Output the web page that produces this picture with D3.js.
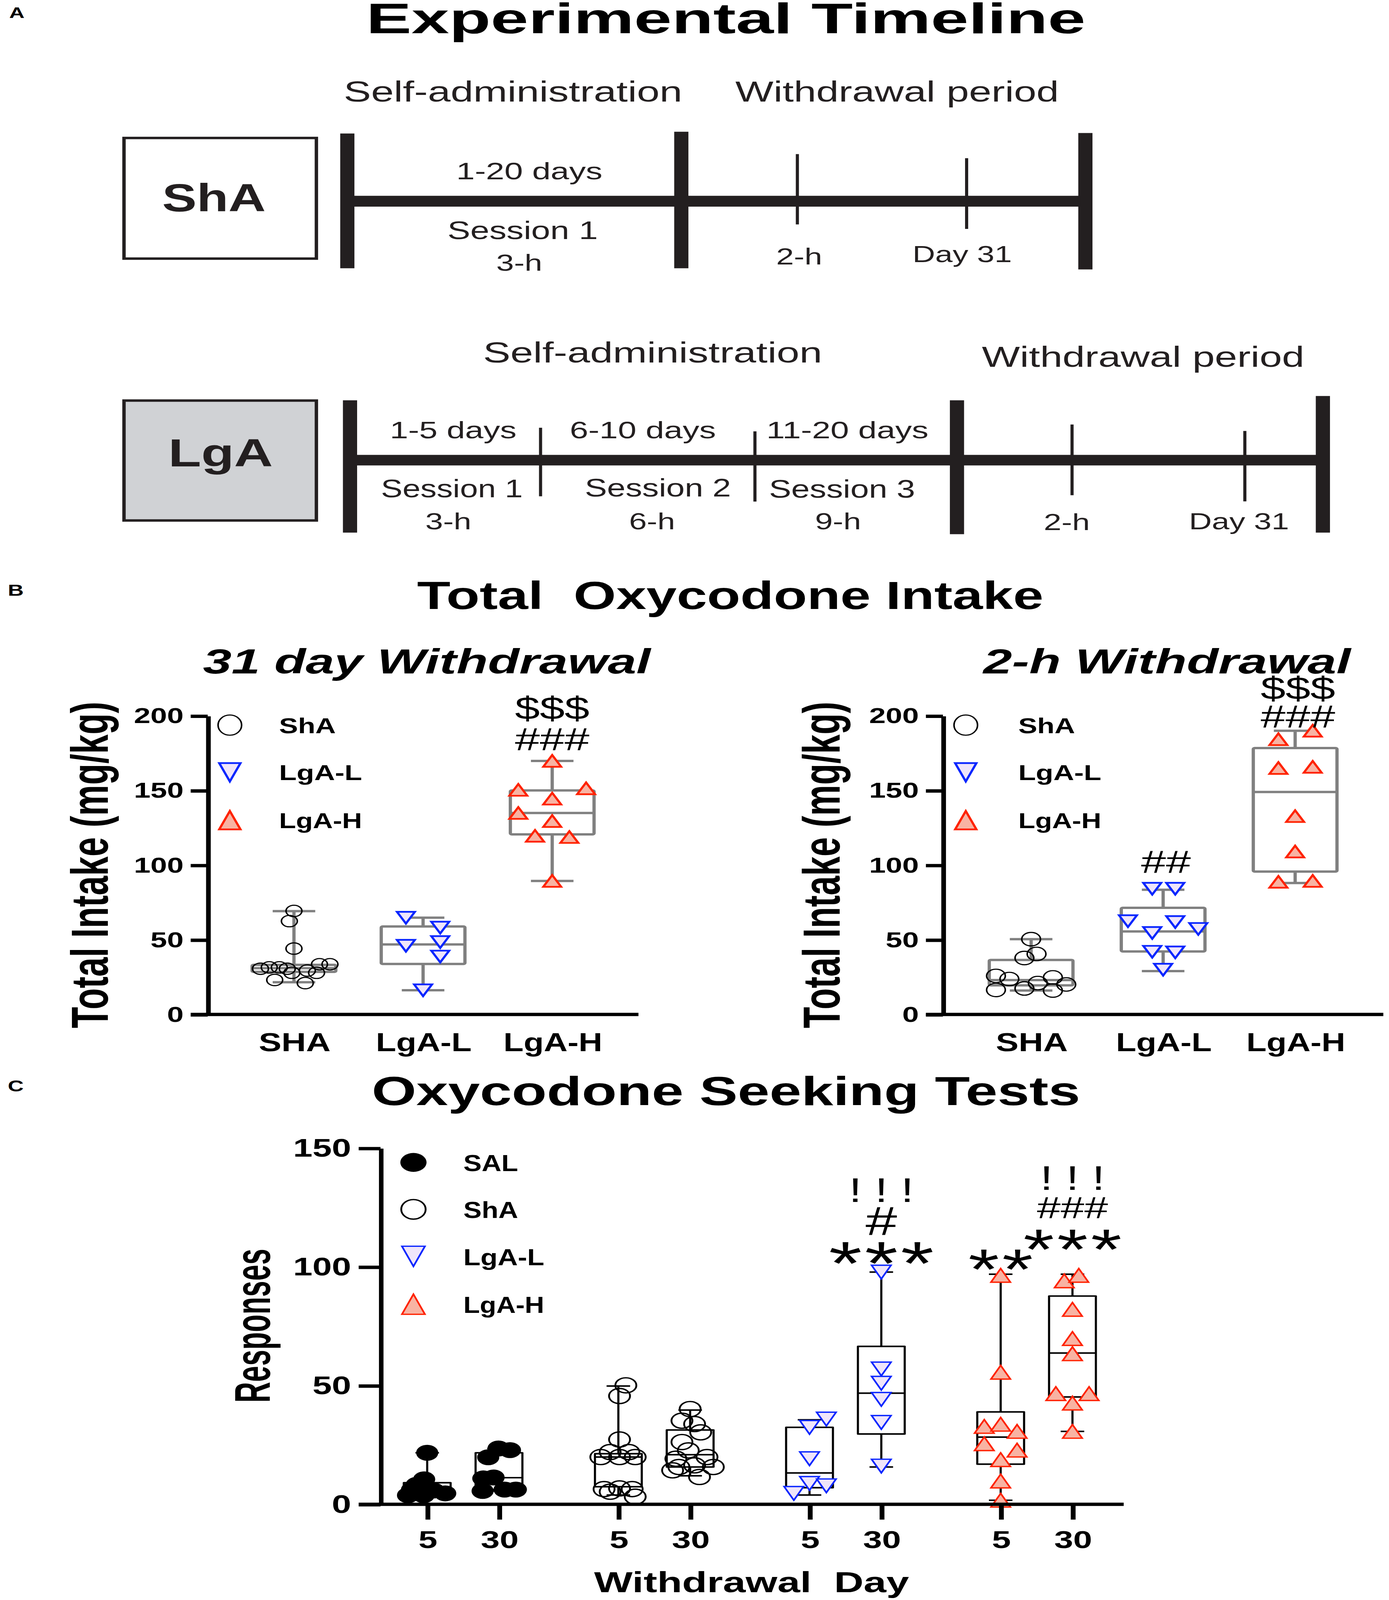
<!DOCTYPE html>
<html><head><meta charset="utf-8">
<script src="https://cdn.jsdelivr.net/npm/d3@7"></script>
<style>html,body{margin:0;padding:0;background:#fff;overflow:hidden} svg{display:block} text{white-space:pre}</style>
</head><body><svg id="fig"></svg>
<script>
// ================= DATA =================
const intakeGroups = ["SHA", "LgA-L", "LgA-H"];
const intakeLegend = ["ShA", "LgA-L", "LgA-H"];
const intakeTicks = [0, 50, 100, 150, 200];

const w31SHA = [69.3, 62.5, 44.1, 30.6, 31.5, 31.5, 30.6, 27.9, 29.4, 33.6, 33.6, 23.1, 21.0, 27.9];
const w31SHAJitter = [0, -0.11, 0, -0.80, -0.59, -0.35, -0.16, -0.05, 0.32, 0.61, 0.86, -0.46, 0.27, 0.54];
const w31LgAL = [64.8, 58.2, 46.0, 48.5, 38.8, 16.2];
const w31LgALJitter = [-0.41, 0.41, -0.41, 0.41, 0.41, 0];
const w31LgAH = [169.8, 150.4, 151.4, 144.5, 134.9, 129.5, 119.6, 118.8, 89.4];
const w31LgAHJitter = [0, -0.81, 0.81, 0, -0.81, 0, -0.41, 0.41, 0];
const w31SHABox = [21.6, 28.5, 31.0, 33.2, 69.2];
const w31LgALBox = [16.2, 33.8, 46.9, 58.9, 64.8];
const w31LgAHBox = [89.4, 120.6, 134.9, 150.0, 169.8];
const w31Annot = [["LgA-H", "$$$", 197.9], ["LgA-H", "###", 177.0]];

const w2SHA = [50.4, 37.8, 40.5, 25.8, 23.7, 24.8, 21.0, 16.4, 17.4, 16.0, 20.1];
const w2SHAJitter = [0, -0.16, 0.13, -0.84, -0.52, 0.52, 0.16, -0.84, -0.16, 0.52, 0.84];
const w2LgAL = [84.2, 84.2, 62.5, 61.9, 57.3, 54.6, 42.0, 41.6, 30.0];
const w2LgALJitter = [-0.26, 0.29, -0.84, 0.29, 0.84, -0.26, -0.26, 0.29, 0];
const w2LgAH = [184.3, 190.0, 165.0, 165.8, 132.8, 109.1, 88.8, 89.4];
const w2LgAHJitter = [-0.40, 0.42, -0.40, 0.42, 0, 0, -0.40, 0.42];
const w2SHABox = [16.0, 19.5, 23.0, 36.5, 50.4];
const w2LgALBox = [29.0, 42.2, 55.6, 71.4, 83.5];
const w2LgAHBox = [88.0, 95.7, 149.0, 178.4, 190.0];
const w2Annot = [["LgA-L", "##", 95.0], ["LgA-H", "$$$", 211.2], ["LgA-H", "###", 192.3]];

const seekGroups = ["SAL", "ShA", "LgA-L", "LgA-H"];
const seekDays = ["5", "30"];
const seekTicks = [0, 50, 100, 150];
const sal5 = [21.7, 10.5, 8.2, 6.1, 5.8, 4.6, 3.8, 3.8];
const sal5Jitter = [0, -0.13, -0.45, -0.65, 0.27, 0.77, -0.82, -0.15];
const sal30 = [23.5, 22.8, 19.8, 10.9, 11.3, 5.6, 6.2, 6.2];
const sal30Jitter = [-0.02, 0.47, -0.46, -0.67, -0.23, -0.70, 0.24, 0.72];
const sha5 = [50.1, 45.6, 27.3, 19.9, 22.0, 22.0, 19.9, 19.9, 6.4, 6.7, 6.4, 5.3, 3.2];
const sha5Jitter = [0.32, 0.05, 0.05, -0.75, -0.35, 0.45, 0.72, 0.05, -0.61, 0.05, 0.59, -0.35, 0.72];
const sha30 = [40.1, 35.2, 33.8, 30.3, 26.2, 22.7, 19.2, 19.9, 15.7, 16.4, 15.7, 11.5, 14.3];
const sha30Jitter = [0, -0.35, 0.19, 0.45, -0.35, -0.08, -0.61, 0.72, -0.48, 0.19, 0.99, 0.40, -0.75];
const lgal5 = [35.9, 32.4, 19.2, 8.8, 7.8, 4.6];
const lgal5Jitter = [0.72, 0, 0, 0, 0.72, -0.67];
const lgal30 = [97.8, 57.0, 51.0, 44.2, 34.5, 16.1];
const lgal30Jitter = [0, 0, 0, 0, 0, 0];
const lgah5 = [96.4, 55.6, 32.8, 33.7, 30.7, 25.5, 22.8, 18.8, 9.8, 1.7];
const lgah5Jitter = [0, 0, -0.70, 0, 0.70, -0.70, 0.70, 0, 0, 0];
const lgah30 = [94.1, 96.4, 82.1, 69.8, 63.4, 46.6, 46.6, 42.6, 30.7];
const lgah30Jitter = [-0.35, 0.27, 0, 0, 0, -0.71, 0.71, 0, 0];
const sal5Box = [3.8, 4.2, 5.5, 9.1, 21.7];
const sal30Box = [5.6, 6.2, 11.2, 21.7, 23.5];
const sha5Box = [3.9, 7.4, 19.9, 21.3, 49.8];
const sha30Box = [12.0, 15.7, 20.9, 31.3, 39.7];
const lgal5Box = [3.9, 7.0, 13.2, 32.4, 35.6];
const lgal30Box = [15.7, 29.6, 46.8, 66.5, 97.8];
const lgah5Box = [1.7, 16.9, 28.3, 38.9, 96.9];
const lgah30Box = [30.7, 45.2, 63.7, 87.7, 96.9];
const seekAnnot = [
  ["LgA-L", "30", "***", 92.4], ["LgA-L", "30", "#", 113.3], ["LgA-L", "30", "! ! !", 127.4],
  ["LgA-H", "5", "**", 90.6],
  ["LgA-H", "30", "***", 99.1], ["LgA-H", "30", "###", 120.5], ["LgA-H", "30", "! ! !", 132.4]
];

const phaseLabels = ["Self-administration", "Withdrawal period"];
const shaDays = ["1-20 days"], shaSessions = ["Session 1"], shaHours = ["3-h"];
const lgaDays = ["1-5 days", "6-10 days", "11-20 days"];
const lgaSessions = ["Session 1", "Session 2", "Session 3"];
const lgaHours = ["3-h", "6-h", "9-h"];
const withdrawalMarks = ["2-h", "Day 31"];

// ================= DRAWING =================
const K = 3555 / 979;
const W = 979, H = 5693 / K;
const VW = window.innerWidth || 3555, VH = window.innerHeight || 5693;
const svg = d3.select("#fig").attr("width", VW).attr("height", VH)
  .attr("viewBox", `0 0 ${W} ${H}`).attr("preserveAspectRatio", "none");
svg.append("rect").attr("width", W).attr("height", H).attr("fill", "#fff");
const FONT = "'Liberation Sans', Arial, Helvetica, sans-serif";

function label(g, s, o) {
  const t = g.append("text").text(s).attr("x", o.x).attr("y", o.y)
    .attr("xml:space", "preserve")
    .attr("font-family", FONT).attr("font-size", o.size)
    .attr("font-weight", o.bold ? "bold" : "normal")
    .attr("font-style", o.italic ? "italic" : "normal")
    .attr("text-anchor", o.anchor || "middle").attr("fill", o.fill || "#000");
  if (o.len) t.attr("textLength", o.len).attr("lengthAdjust", "spacingAndGlyphs");
  if (o.ls) t.attr("letter-spacing", o.ls);
  if (o.rotate) t.attr("transform", `rotate(${o.rotate},${o.x},${o.y})`);
  return t;
}
function triPath(cx, cy, w, h, up) {
  return up
    ? `M${cx - w / 2},${cy + h / 2}L${cx},${cy - h / 2}L${cx + w / 2},${cy + h / 2}Z`
    : `M${cx - w / 2},${cy - h / 2}L${cx},${cy + h / 2}L${cx + w / 2},${cy - h / 2}Z`;
}
const BLUE = "#0a26ff", BLUEFILL = "#efe5fa", RED = "#ff2200", REDFILL = "#f8b3a3";

const hdr = svg.append("g");
label(hdr, "A", {x: 6.5, y: 17.6, size: 15, bold: true, anchor: "start"});
label(hdr, "Experimental Timeline", {x: 511.6, y: 32.6, size: 42, bold: true, len: 507});
label(hdr, "B", {x: 5.5, y: 583.6, size: 15.5, bold: true, anchor: "start"});
label(hdr, "Total  Oxycodone Intake", {x: 514.7, y: 596.8, size: 38.5, bold: true, len: 441.5});
label(hdr, "31 day Withdrawal", {x: 300.8, y: 659.9, size: 34, bold: true, italic: true, len: 315.5});
label(hdr, "2-h Withdrawal", {x: 822.5, y: 660, size: 34, bold: true, italic: true, len: 259});
label(hdr, "C", {x: 5.5, y: 1069.5, size: 15.5, bold: true, anchor: "start"});
label(hdr, "Oxycodone Seeking Tests", {x: 511.7, y: 1083, size: 40, bold: true, len: 499.4});

(function timeline() {
  const g = svg.append("g");
  const INK = "#231f20";
  const tx = (s, x, y, size, len) => label(g, s, {x, y, size, len, fill: INK});
  g.append("rect").attr("x", 87.4).attr("y", 135.2).attr("width", 135.6).attr("height", 118.2)
    .attr("fill", "#fff").attr("stroke", INK).attr("stroke-width", 2.4);
  label(g, "ShA", {x: 150.8, y: 207.2, size: 38, bold: true, len: 73, fill: INK});
  g.append("line").attr("x1", 244.8).attr("x2", 765).attr("y1", 197.2).attr("y2", 197.2)
    .attr("stroke", INK).attr("stroke-width", 10.6);
  [[244.8, 130.8, 262.9], [480.2, 129.1, 262.9], [765, 130.3, 264]].forEach(b =>
    g.append("line").attr("x1", b[0]).attr("x2", b[0]).attr("y1", b[1]).attr("y2", b[2])
      .attr("stroke", INK).attr("stroke-width", 10));
  [[562, 151, 219.9], [681.3, 155, 224.3]].forEach(b =>
    g.append("line").attr("x1", b[0]).attr("x2", b[0]).attr("y1", b[1]).attr("y2", b[2])
      .attr("stroke", INK).attr("stroke-width", 2.2));
  tx(phaseLabels[0], 361.6, 99.7, 28.5, 238.6);
  tx(phaseLabels[1], 632.3, 99.7, 28.5, 228);
  tx(shaDays[0], 373.1, 175.6, 23.5, 103);
  tx(shaSessions[0], 368.4, 234.4, 24.5, 106);
  tx(shaHours[0], 366, 265.2, 23, 32.5);
  tx(withdrawalMarks[0], 563.3, 259, 23, 32.5);
  tx(withdrawalMarks[1], 678.2, 256.7, 23, 70);

  g.append("rect").attr("x", 87.4).attr("y", 392.5).attr("width", 135.6).attr("height", 117.5)
    .attr("fill", "#d0d2d5").attr("stroke", INK).attr("stroke-width", 2.4);
  label(g, "LgA", {x: 155.5, y: 457.1, size: 38.5, bold: true, len: 73.7, fill: INK});
  g.append("line").attr("x1", 246.7).attr("x2", 932.4).attr("y1", 450.9).attr("y2", 450.9)
    .attr("stroke", INK).attr("stroke-width", 10.3);
  [[246.7, 392.2, 521.9], [674.5, 392.2, 523.4], [932.4, 388, 521.9]].forEach(b =>
    g.append("line").attr("x1", b[0]).attr("x2", b[0]).attr("y1", b[1]).attr("y2", b[2])
      .attr("stroke", INK).attr("stroke-width", 10));
  [[381, 419.1, 486.3], [532.1, 422.7, 491.5], [755.6, 416, 485.2], [877.4, 422.3, 491.3]].forEach(b =>
    g.append("line").attr("x1", b[0]).attr("x2", b[0]).attr("y1", b[1]).attr("y2", b[2])
      .attr("stroke", INK).attr("stroke-width", 2.2));
  tx(phaseLabels[0], 460, 355.1, 28.5, 239);
  tx(phaseLabels[1], 805.7, 359.5, 28.5, 227.3);
  [[319.4, 89.3], [453.1, 103], [597.3, 114.3]].forEach((p, i) => tx(lgaDays[i], p[0], 429.4, 23.5, p[1]));
  [[318.5, 487.1, 100], [463.7, 486.3, 103], [593.5, 487.6, 103]].forEach((p, i) => tx(lgaSessions[i], p[0], p[1], 24.5, p[2]));
  [316, 459.6, 590.7].forEach((x, i) => tx(lgaHours[i], x, 518.7, 23, 32.5));
  tx(withdrawalMarks[0], 751.9, 519.5, 23, 32.5);
  tx(withdrawalMarks[1], 873.3, 518.7, 23, 70.6);
})();

function intakePanel(o) {
  const g = svg.append("g");
  const y = d3.scaleLinear().domain([0, 200]).range([994, 701.4]);
  const x = d3.scalePoint().domain(intakeGroups).range([o.x0, o.x1]).padding(0.668);
  const HALF = 29.5, CAP = 15, GRAY = "#808080";
  const series = [
    {vals: o.sha, jit: o.shaJ, box: o.shaBox, kind: "circle"},
    {vals: o.lgal, jit: o.lgalJ, box: o.lgalBox, kind: "down"},
    {vals: o.lgah, jit: o.lgahJ, box: o.lgahBox, kind: "up"}
  ];
  series.forEach((s, i) => {
    const cx = x(intakeGroups[i]);
    const [mn, q1, md, q3, mx] = s.box;
    const bg = g.append("g").attr("stroke", GRAY).attr("stroke-width", 2.3).attr("fill", "none")
      .attr("stroke-linejoin", "round");
    bg.append("rect").attr("x", cx - HALF).attr("width", 2 * HALF).attr("y", y(q3)).attr("height", y(q1) - y(q3)).attr("rx", 1);
    bg.append("line").attr("x1", cx - HALF).attr("x2", cx + HALF).attr("y1", y(md)).attr("y2", y(md));
    bg.append("line").attr("x1", cx).attr("x2", cx).attr("y1", y(q3)).attr("y2", y(mx));
    bg.append("line").attr("x1", cx).attr("x2", cx).attr("y1", y(q1)).attr("y2", y(mn));
    [mn, mx].forEach(v => bg.append("line").attr("x1", cx - CAP).attr("x2", cx + CAP).attr("y1", y(v)).attr("y2", y(v)));
  });
  series.forEach((s, i) => {
    const cx = x(intakeGroups[i]);
    s.vals.forEach((v, j) => {
      const px = cx + s.jit[j] * HALF, py = y(v);
      if (s.kind === "circle") {
        g.append("circle").attr("cx", px).attr("cy", py).attr("r", o.r)
          .attr("fill", "none").attr("stroke", "#000").attr("stroke-width", 1.1);
      } else {
        const up = s.kind === "up";
        g.append("path").attr("d", triPath(px, py, 12.6, 11.5, up))
          .attr("fill", up ? REDFILL : BLUEFILL).attr("stroke", up ? RED : BLUE)
          .attr("stroke-width", 1.7).attr("stroke-linejoin", "miter");
      }
    });
  });
  const ya = g.append("g").attr("transform", `translate(${o.x0},0)`)
    .call(d3.axisLeft(y).tickValues(intakeTicks).tickSize(12).tickSizeOuter(0).tickPadding(5));
  ya.attr("font-size", null).attr("font-family", null);
  ya.select(".domain").attr("stroke", "#000").attr("stroke-width", 3.3);
  ya.selectAll(".tick line").attr("stroke", "#000").attr("stroke-width", 3.3);
  ya.selectAll(".tick text").attr("font-family", FONT).attr("font-size", 21).attr("font-weight", "bold").attr("fill", "#000");
  g.append("line").attr("x1", o.x0 - 12).attr("x2", o.x1).attr("y1", y(0)).attr("y2", y(0))
    .attr("stroke", "#000").attr("stroke-width", 3.3);
  const xa = g.append("g").attr("transform", `translate(0,${y(0)})`)
    .call(d3.axisBottom(x).tickSize(0).tickPadding(18));
  xa.attr("font-size", null).attr("font-family", null);
  xa.select(".domain").remove();
  const xLens = [50.7, 67.5, 69.7];
  xa.selectAll(".tick text").attr("font-family", FONT).attr("font-size", 25.5).attr("font-weight", "bold")
    .attr("fill", "#000").attr("textLength", (d, i) => xLens[i]).attr("lengthAdjust", "spacingAndGlyphs");
  label(g, "Total Intake (mg/kg)", {x: o.ylx, y: 847.5, size: 37, bold: true, len: 320, rotate: -90});
  const legY = [710.5, 756.7, 803.7], legLens = [40, 58.5, 58.5];
  intakeLegend.forEach((name, i) => {
    const ly = legY[i];
    if (i === 0) {
      g.append("ellipse").attr("cx", o.legX).attr("cy", ly).attr("rx", 8.3).attr("ry", 9.9)
        .attr("fill", "none").attr("stroke", "#000").attr("stroke-width", 1.1);
    } else {
      const up = i === 2;
      g.append("path").attr("d", triPath(o.legX, ly, 15, 18, up))
        .attr("fill", up ? REDFILL : BLUEFILL).attr("stroke", up ? RED : BLUE).attr("stroke-width", 1.7);
    }
    label(g, name, {x: o.legTX, y: ly + 7.8, size: 21, bold: true, anchor: "start", len: legLens[i]});
  });
  o.annot.forEach(a => label(g, a[1], {x: x(a[0]) + (o.annDx || 0), y: y(a[2]), size: 31.5}));
}
intakePanel({x0: 146.4, x1: 450, sha: w31SHA, shaJ: w31SHAJitter, lgal: w31LgAL, lgalJ: w31LgALJitter,
  lgah: w31LgAH, lgahJ: w31LgAHJitter, shaBox: w31SHABox, lgalBox: w31LgALBox, lgahBox: w31LgAHBox,
  annot: w31Annot, r: 5.6, ylx: 75.9, legX: 162, legTX: 196.7});
intakePanel({x0: 664.6, x1: 975, sha: w2SHA, shaJ: w2SHAJitter, lgal: w2LgAL, lgalJ: w2LgALJitter,
  lgah: w2LgAH, lgahJ: w2LgAHJitter, shaBox: w2SHABox, lgalBox: w2LgALBox, lgahBox: w2LgAHBox,
  annot: w2Annot, r: 6.6, ylx: 591.8, legX: 680.7, legTX: 717.7, annDx: 2});

(function seeking() {
  const g = svg.append("g");
  const y = d3.scaleLinear().domain([0, 150]).range([1474, 1125]);
  const gx = d3.scalePoint().domain(seekGroups).range([326.4, 730.6]);
  const dx = d3.scalePoint().domain(seekDays).range([-25.3, 25.3]);
  const keys = seekGroups.flatMap(gr => seekDays.map(d => gr + "|" + d));
  const x = d3.scaleOrdinal().domain(keys).range(keys.map(k => { const [gr, d] = k.split("|"); return gx(gr) + dx(d); }));
  const table = [
    ["SAL", "5", sal5, sal5Jitter, sal5Box], ["SAL", "30", sal30, sal30Jitter, sal30Box],
    ["ShA", "5", sha5, sha5Jitter, sha5Box], ["ShA", "30", sha30, sha30Jitter, sha30Box],
    ["LgA-L", "5", lgal5, lgal5Jitter, lgal5Box], ["LgA-L", "30", lgal30, lgal30Jitter, lgal30Box],
    ["LgA-H", "5", lgah5, lgah5Jitter, lgah5Box], ["LgA-H", "30", lgah30, lgah30Jitter, lgah30Box]
  ];
  const HALF = 16.5, CAP = 8.3;
  table.forEach(r => {
    const cx = x(r[0] + "|" + r[1]);
    const [mn, q1, md, q3, mx] = r[4];
    const bg = g.append("g").attr("stroke", "#000").attr("stroke-width", 1.5).attr("fill", "none").attr("stroke-linejoin", "round");
    bg.append("rect").attr("x", cx - HALF).attr("width", 2 * HALF).attr("y", y(q3)).attr("height", y(q1) - y(q3));
    bg.append("line").attr("x1", cx - HALF).attr("x2", cx + HALF).attr("y1", y(md)).attr("y2", y(md));
    bg.append("line").attr("x1", cx).attr("x2", cx).attr("y1", y(q3)).attr("y2", y(mx));
    bg.append("line").attr("x1", cx).attr("x2", cx).attr("y1", y(q1)).attr("y2", y(mn));
    [mn, mx].forEach(v => bg.append("line").attr("x1", cx - CAP).attr("x2", cx + CAP).attr("y1", y(v)).attr("y2", y(v)));
  });
  table.forEach(r => {
    const cx = x(r[0] + "|" + r[1]);
    r[2].forEach((v, j) => {
      const px = cx + r[3][j] * HALF, py = y(v);
      if (r[0] === "SAL") {
        g.append("circle").attr("cx", px).attr("cy", py).attr("r", 7.8).attr("fill", "#000");
      } else if (r[0] === "ShA") {
        g.append("circle").attr("cx", px).attr("cy", py).attr("r", 7.4)
          .attr("fill", "none").attr("stroke", "#000").attr("stroke-width", 1.3);
      } else {
        const up = r[0] === "LgA-H";
        g.append("path").attr("d", triPath(px, py, 13.7, 13.4, up))
          .attr("fill", up ? REDFILL : BLUEFILL).attr("stroke", up ? RED : BLUE).attr("stroke-width", 1.3);
      }
    });
  });
  const ya = g.append("g").attr("transform", "translate(268.2,0)")
    .call(d3.axisLeft(y).tickValues(seekTicks).tickSize(15.4).tickSizeOuter(0).tickPadding(5.3));
  ya.attr("font-size", null).attr("font-family", null);
  ya.select(".domain").attr("stroke", "#000").attr("stroke-width", 3.2);
  ya.selectAll(".tick line").attr("stroke", "#000").attr("stroke-width", 3.3);
  ya.selectAll(".tick text").attr("font-family", FONT).attr("font-size", 24.5).attr("font-weight", "bold").attr("fill", "#000");
  g.append("line").attr("x1", 252.8).attr("x2", 792).attr("y1", y(0)).attr("y2", y(0))
    .attr("stroke", "#000").attr("stroke-width", 3.2);
  const xa = g.append("g").attr("transform", `translate(0,${y(0)})`)
    .call(d3.axisBottom(x).tickSize(15).tickPadding(10.7).tickFormat(k => k.split("|")[1]));
  xa.attr("font-size", null).attr("font-family", null);
  xa.select(".domain").remove();
  xa.selectAll(".tick line").attr("stroke", "#000").attr("stroke-width", 3.4);
  xa.selectAll(".tick text").attr("font-family", FONT).attr("font-size", 24).attr("font-weight", "bold").attr("fill", "#000");
  label(g, "Responses", {x: 190.3, y: 1299, size: 35, bold: true, len: 151, rotate: -90});
  label(g, "Withdrawal  Day", {x: 529.7, y: 1560.3, size: 28.5, bold: true, len: 222});
  const legY = [1139, 1185, 1231, 1278], legLens = [38.6, 38.6, 57, 57];
  seekGroups.forEach((name, i) => {
    const ly = legY[i], lx = 291.4;
    if (i === 0) g.append("circle").attr("cx", lx).attr("cy", ly).attr("r", 9.25).attr("fill", "#000");
    else if (i === 1) g.append("ellipse").attr("cx", lx).attr("cy", ly).attr("rx", 8.6).attr("ry", 9.6)
      .attr("fill", "none").attr("stroke", "#000").attr("stroke-width", 1.3);
    else {
      const up = i === 3;
      g.append("path").attr("d", triPath(lx, ly, 16.2, 19.7, up))
        .attr("fill", up ? REDFILL : BLUEFILL).attr("stroke", up ? RED : BLUE).attr("stroke-width", 1.3);
    }
    label(g, name, {x: 326.6, y: ly + 8.6, size: 23, bold: true, anchor: "start", len: legLens[i]});
  });
  const annStyle = {"***": [60, 2], "**": [56, 2], "#": [40, 0], "###": [30, 0], "! ! !": [33, 0]};
  seekAnnot.forEach(a => {
    let [size, ls] = annStyle[a[2]];
    if (a[2] === "***" && a[0] === "LgA-H") size = 56;
    label(g, a[2], {x: x(a[0] + "|" + a[1]) + ls / 2, y: y(a[3]), size, ls});
  });
})();
</script></body></html>
